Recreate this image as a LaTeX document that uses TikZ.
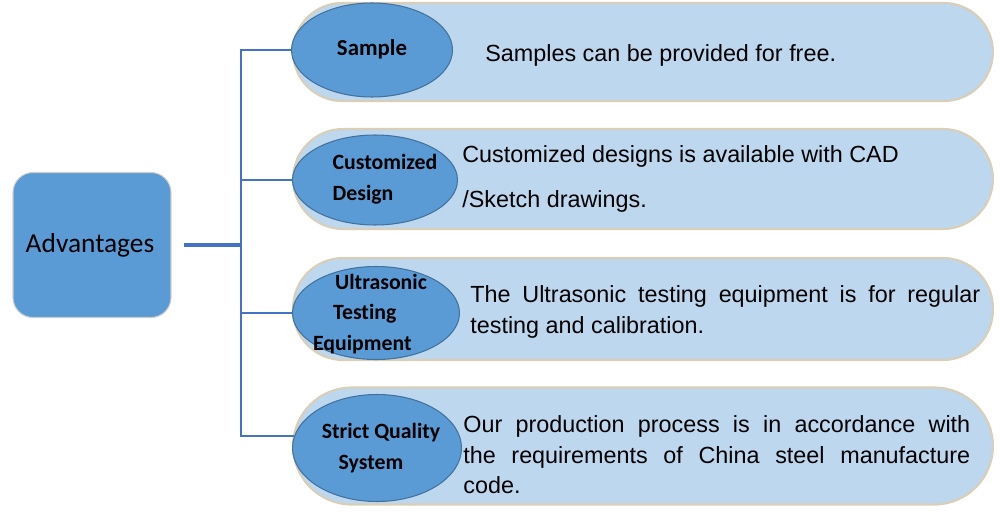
\documentclass[tikz,border=0pt]{standalone}
\usepackage{fontspec}
\setmainfont{Liberation Sans}
\newfontfamily\labelfont[Ligatures=NoCommon]{Carlito}
\usetikzlibrary{shapes.geometric}

\definecolor{boxblue}{HTML}{5B9BD5}
\definecolor{ringblue}{HTML}{41719C}
\definecolor{pillblue}{HTML}{BDD7EE}
\definecolor{pillrim}{HTML}{D9CFB8}
\definecolor{lineblue}{HTML}{4472C4}

\tikzset{
  pill/.style={draw=pillrim, line width=1.2pt, fill=pillblue, rounded corners=#1,
    minimum width=14cm, inner sep=0pt},
  badge/.style={ellipse, draw=ringblue, line width=0.6pt, fill=boxblue, inner sep=0pt},
  badgetext/.style={inner sep=0pt, font=\labelfont\bfseries\fontsize{12.4}{17.5}\selectfont},
  blurb/.style={anchor=west, inner sep=0pt, font=\fontsize{13.3}{17.4}\selectfont},
  trunk/.style={draw=lineblue, line width=1.1pt},
}

\begin{document}
\begin{tikzpicture}[x=0.02cm, y=-0.02cm]
		%%%%% FRAME %%%%%
		\useasboundingbox (0, 0) rectangle (1000, 517);
		
		%%%%% ROOT %%%%%
		\node[draw=black!20, line width=0.6pt, fill=boxblue, rounded corners=0.4cm,
		      minimum width=3.16cm, minimum height=2.9cm,
		      font=\labelfont\fontsize{15.6}{18}\selectfont] (adv) at (92, 245) {\hspace*{-0.08cm}Advantages};
		
		%%%%% PILLS %%%%%
		\node[pill=0.98cm, minimum height=1.96cm] (pill1) at (643, 52) {};
		\node[pill=1.0cm, minimum height=2.0cm] (pill2) at (643, 179) {};
		\node[pill=1.0cm, minimum height=2.04cm] (pill3) at (643, 309) {};
		\node[pill=1.17cm, minimum height=2.34cm] (pill4) at (643, 446) {};
		
		%%%%% BADGES %%%%%
		\node[badge, minimum width=3.22cm, minimum height=1.88cm,
		      label={[badgetext, font=\labelfont\bfseries\fontsize{13}{17.5}\selectfont, yshift=0.02cm]center:Sample}]
		      (sample) at (372, 50) {};
		\node[badge, minimum width=3.3cm, minimum height=1.8cm,
		      label={[badgetext, align=left, xshift=0.2cm, yshift=0.01cm]center:{Customized\\Design}}]
		      (design) at (375, 180) {};
		\node[badge, minimum width=3.34cm, minimum height=1.86cm,
		      label={[badgetext, align=left, xshift=-0.12cm, yshift=-0.02cm]center:{\hspace*{0.44cm}Ultrasonic\\\hspace*{0.4cm}Testing\\Equipment}}]
		      (ultra) at (376, 313) {};
		\node[badge, minimum width=3.38cm, minimum height=2.14cm,
		      label={[badgetext, align=center, xshift=0.08cm, yshift=0cm]center:{Strict Quality\\System\hspace*{0.4cm}}}]
		      (quality) at (377, 448) {};
		
		%%%%% TEXTS %%%%%
		\node[blurb] (txt1) at (485, 55) {Samples can be provided for free.};
		\node[blurb, align=left, font=\fontsize{13.3}{25.5}\selectfont] (txt2) at (462, 179)
		     {Customized designs is available with CAD\\/Sketch drawings.};
		\node[blurb, align=justify, text width=10.2cm] (txt3) at (470, 312)
		     {\hyphenpenalty=10000 The Ultrasonic testing equipment is for regular testing and calibration.};
		\node[blurb, align=justify, text width=10.14cm] (txt4) at (463, 455)
		     {\hyphenpenalty=10000 Our production process is in accordance with\linebreak
		      the requirements of China steel manufacture\linebreak code.};
		
		%%%%% CONNECTORS %%%%%
		\coordinate (hub) at (241, 245);
		\draw[trunk, line width=2pt, shorten <=0.24cm] (adv.east) -- (hub);
		\draw[trunk] (sample.west) -| (hub) |- (quality.172);
		\draw[trunk] (design.west) -- (design.west -| hub);
		\draw[trunk] (ultra.west) -- (ultra.west -| hub);
		
		%%%%% END %%%%%
\end{tikzpicture}
\end{document}
